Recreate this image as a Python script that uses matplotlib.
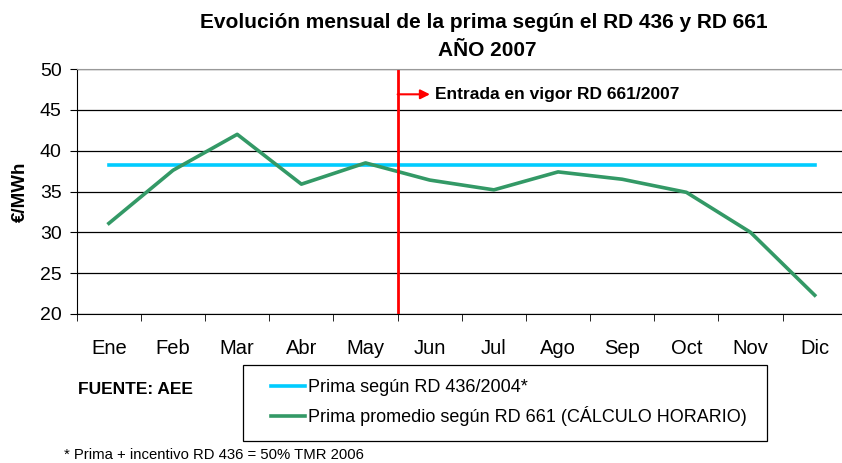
import numpy as np
import matplotlib.pyplot as plt
from matplotlib.legend_handler import HandlerLine2D

plt.rcParams['font.family'] = ['Liberation Sans', 'DejaVu Sans']

meses = ['Ene', 'Feb', 'Mar', 'Abr', 'May', 'Jun', 'Jul', 'Ago', 'Sep', 'Oct', 'Nov', 'Dic']
prima_436 = [38.3] * 12
prima_661 = [31.1, 37.6, 42.0, 35.9, 38.5, 36.4, 35.2, 37.4, 36.5, 34.9, 30.0, 22.3]

fig = plt.figure(figsize=(8.42, 4.63), dpi=100)
W, H = 842, 463
ax = fig.add_axes([76.8 / W, (H - 314) / H, 770 / W, 245 / H])

x = np.arange(len(meses))
l1, = ax.plot(x, prima_436, color='#00ccff', lw=2.6, label='Prima según RD 436/2004*')
l2, = ax.plot(x, prima_661, color='#339966', lw=2.6, label='Prima promedio según RD 661 (CÁLCULO HORARIO)')

ax.set_xlim(-0.5, 11.5)
ax.set_ylim(20, 50)
ax.set_yticks(range(20, 51, 5))
ax.yaxis.grid(True, color='black', lw=0.9)
ax.set_axisbelow(True)
ax.spines['right'].set_visible(False)
ax.spines['top'].set_color('#999999')
ax.spines['left'].set_color('black')
ax.spines['bottom'].set_color('black')

ax.set_xticks(x)
ax.set_xticklabels(meses, fontsize=14.5)
ax.tick_params(axis='x', length=0, pad=18)
ax.set_xticks(np.arange(-0.5, 12, 1), minor=True)
ax.tick_params(axis='x', which='minor', length=5, color='black')
ax.tick_params(axis='y', labelsize=14, length=5, color='black', pad=6)

ax.set_ylabel('€/MWh', fontsize=13.5, fontweight='bold', labelpad=8)

# entrada en vigor RD 661
ax.axvline(4.5, color='red', lw=2)
ax.annotate('', xy=(5.004, 46.9), xytext=(4.5, 46.9),
            arrowprops=dict(arrowstyle='-|>', color='red', lw=1.5, mutation_scale=14,
                            shrinkA=0, shrinkB=0))
ax.text(5.08, 46.9, 'Entrada en vigor RD 661/2007', fontsize=12.5, fontweight='bold',
        va='center', ha='left')

fig.text(484 / W, 1 - 22 / H, 'Evolución mensual de la prima según el RD 436 y RD 661',
         ha='center', va='center', fontsize=15, fontweight='bold')
fig.text(487 / W, 1 - 50 / H, 'AÑO 2007', ha='center', va='center', fontsize=15, fontweight='bold')

hm = {l1: HandlerLine2D(xpad=0.75), l2: HandlerLine2D(xpad=0.75)}
leg = ax.legend(handles=[l1, l2], loc='upper left', handler_map=hm,
                bbox_to_anchor=(243 / W, 1 - 365 / H - 0.01, 524 / W, 0.01),
                bbox_transform=fig.transFigure, mode='expand', borderaxespad=0,
                fontsize=13, fancybox=False, edgecolor='black', framealpha=1,
                labelspacing=0.55, handlelength=2.63, handletextpad=0.17, borderpad=0.8)
leg.get_frame().set_linewidth(0.9)

fig.text(78 / W, 1 - 390 / H, 'FUENTE: AEE', fontsize=12.5, fontweight='bold', va='center')
fig.text(64 / W, 1 - 455 / H, '* Prima + incentivo RD 436 = 50% TMR 2006', fontsize=10.7, va='center')

fig.savefig('out.png', dpi=100)
